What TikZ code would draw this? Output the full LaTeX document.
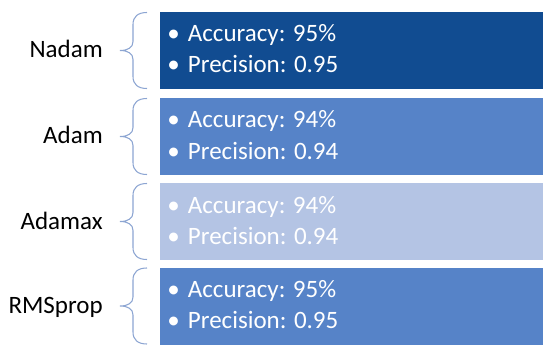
\documentclass[tikz,border=0pt]{standalone}
\usepackage{fontspec}
\setmainfont{Carlito}
\usepackage{xcolor}
\usetikzlibrary{positioning,calc}
\definecolor{optdark}{RGB}{17,76,145}
\definecolor{optmid}{RGB}{86,131,200}
\definecolor{optlight}{RGB}{180,196,228}
\definecolor{bracecol}{RGB}{140,165,210}
\tikzset{
  optbox/.style={draw=none,inner sep=0,minimum width=287.25pt,minimum height=57.75pt},
  optlabel/.style={inner sep=0,font=\fontsize{18.75pt}{23pt}\selectfont},
  opttext/.style={inner sep=0,text=white,font=\fontsize{18.75pt}{23pt}\selectfont},
  optbrace/.style={draw=bracecol,line width=0.8pt}
}
\newcommand{\bul}{\makebox[15.5pt][l]{\textbullet}}
\newcommand{\optrow}[6]{%
  \node[optbox,fill=#5] (box#1) at (351.5,#6) {};
  \node[optlabel,anchor=base east] (lab#1) at (103,#6-7.5) {#2};
  \node[opttext,anchor=base west] (acc#1) at (167,#6+8.5) {\bul Accuracy: #3};
  \node[opttext,anchor=base west] (prec#1) at (167,#6-22.5) {\bul Precision: #4};
  \draw[optbrace] (147,#6+38) .. controls (138,#6+38) and (133,#6+34) .. (133,#6+26)
    -- (133,#6+9) .. controls (133,#6+3) and (128,#6) .. (120,#6)
    .. controls (128,#6) and (133,#6-3) .. (133,#6-9)
    -- (133,#6-26) .. controls (133,#6-34) and (138,#6-38) .. (147,#6-38);
}

\begin{document}
\begin{tikzpicture}[x=0.75pt,y=0.75pt]
\useasboundingbox (0,0) rectangle (550,354);
\optrow{nadam}{Nadam}{95\%}{0.95}{optdark}{303.5}
\optrow{adam}{Adam}{94\%}{0.94}{optmid}{217.5}
\optrow{adamax}{Adamax}{94\%}{0.94}{optlight}{132.5}
\optrow{rms}{RMSprop}{95\%}{0.95}{optmid}{48}
\end{tikzpicture}
\end{document}
